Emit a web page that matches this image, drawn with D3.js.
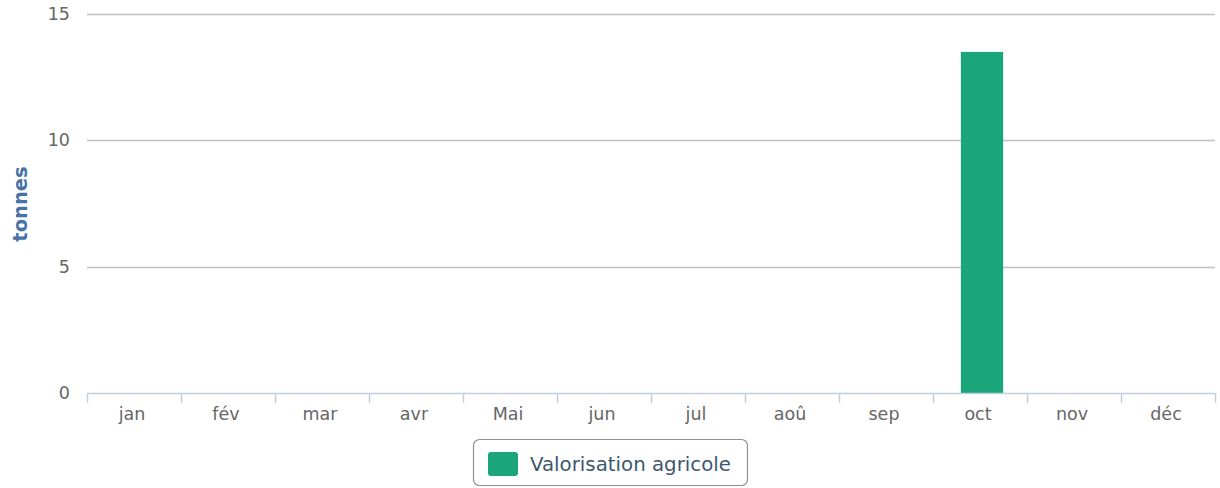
<!DOCTYPE html>
<html><head><meta charset="utf-8">
<script src="https://cdn.jsdelivr.net/npm/d3@7"></script>
<style>body{margin:0;background:#fff;} svg{display:block;}</style>
</head><body>
<svg id="chart" width="1220" height="488"></svg>
<script>
const categories = ["jan","fév","mar","avr","Mai","jun","jul","aoû","sep","oct","nov","déc"];
const values = [0,0,0,0,0,0,0,0,0,13.5,0,0];
const yTicks = [0,5,10,15];
const seriesName = "Valorisation agricole";
const yTitle = "tonnes";

(function(){
const svg = d3.select("#chart");
const font = "DejaVu Sans, Verdana, sans-serif";
const pLeft = 87, pRight = 1215, pTop = 14, pBottom = 393;

const x = d3.scaleBand().domain(categories).range([pLeft + 2, pRight + 2]).paddingInner(0.55).paddingOuter(0.275);
const xb = d3.scaleBand().domain(categories).range([pLeft, pRight]);
const y = d3.scaleLinear().domain([0,15]).range([pBottom, pTop]);

// gridlines
svg.append("g").selectAll("line").data(yTicks.filter(d=>d>0)).join("line")
  .attr("x1", pLeft).attr("x2", pRight)
  .attr("y1", d=>Math.round(y(d))+0.5).attr("y2", d=>Math.round(y(d))+0.5)
  .attr("stroke", "#c0c0c0").attr("stroke-width", 1.5);

// y labels
svg.append("g").selectAll("text").data(yTicks).join("text")
  .attr("x", 70).attr("y", d=>y(d)+6)
  .attr("text-anchor","end").attr("font-family",font).attr("font-size",17.5)
  .attr("fill","#666").text(d=>d);

// y title
svg.append("text").attr("transform","translate(27,204) rotate(-90)")
  .attr("text-anchor","middle").attr("font-family",font).attr("font-size",19.5)
  .attr("font-weight","bold").attr("fill","#4572a7").text(yTitle);

// bars
svg.append("g").selectAll("rect").data(categories.map((c,i)=>({c,v:values[i]}))).join("rect")
  .attr("x", d=>x(d.c)).attr("width", x.bandwidth())
  .attr("y", d=>y(d.v)).attr("height", d=>y(0)-y(d.v))
  .attr("fill","#1aa57a");

// x axis
const xAxis = svg.append("g");
xAxis.append("line").attr("x1",pLeft).attr("x2",pRight).attr("y1",pBottom+0.5).attr("y2",pBottom+0.5)
  .attr("stroke","#c0d0e0").attr("stroke-width",1.5);
const tickPos = categories.map(c=>xb(c)).concat([pRight]);
xAxis.selectAll("line.tick").data(tickPos).join("line").attr("class","tick")
  .attr("x1",d=>Math.round(d)+0.5).attr("x2",d=>Math.round(d)+0.5)
  .attr("y1",pBottom).attr("y2",pBottom+10)
  .attr("stroke","#c0d0e0").attr("stroke-width",1.5);
xAxis.selectAll("text").data(categories).join("text")
  .attr("x", d=>xb(d)+xb.bandwidth()/2 - 2).attr("y", 420)
  .attr("text-anchor","middle").attr("font-family",font).attr("font-size",17.5)
  .attr("fill","#666").text(d=>d);

// legend
const lg = svg.append("g");
lg.append("rect").attr("x",473.5).attr("y",439.5).attr("width",274).attr("height",46).attr("rx",6)
  .attr("fill","#fff").attr("stroke","#909090").attr("stroke-width",1.2);
lg.append("rect").attr("x",488).attr("y",452).attr("width",30).attr("height",24).attr("rx",3)
  .attr("fill","#1aa57a");
lg.append("text").attr("x",530).attr("y",471).attr("font-family",font).attr("font-size",19.8)
  .attr("fill","#3e576f").text(seriesName);
})();
</script>
</body></html>
